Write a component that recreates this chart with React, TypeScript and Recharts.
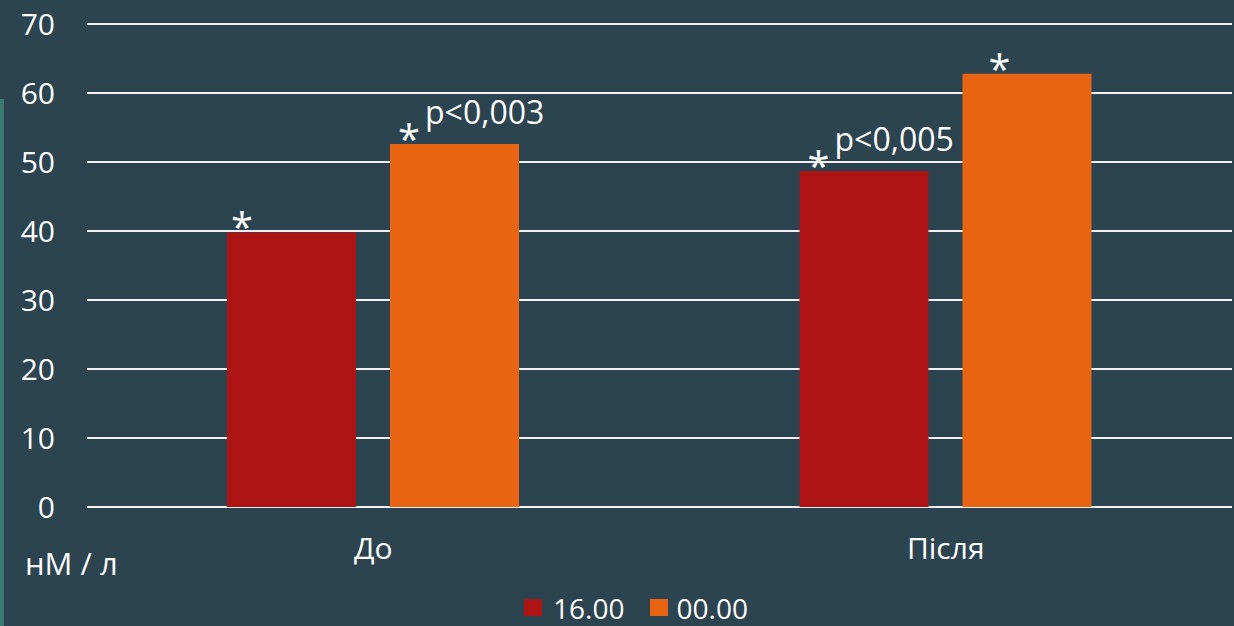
import React from 'react';
import { BarChart, Bar, XAxis, YAxis, CartesianGrid, Legend, LabelList } from 'recharts';

const periods = ['До', 'Після'];
const series1600 = [39.8, 48.7];
const series0000 = [52.6, 62.8];
const notes1600 = ['', 'p<0,005'];
const notes0000 = ['p<0,003', ''];
const yTicks = [0, 10, 20, 30, 40, 50, 60, 70];

const chartData = periods.map((period, i) => ({
  period,
  t1600: series1600[i],
  t0000: series0000[i],
  n1600: notes1600[i],
  n0000: notes0000[i],
}));

const FONT = '"Open Sans", "DejaVu Sans", sans-serif';
const BG = '#2c4350';
const RED = '#ae1414';
const ORANGE = '#e86412';

// asterisk + optional p-value above each bar; shifts are the star's offset from the bar's left edge
const makeNote = (shifts: number[]) => (props: any) => {
  const { x, y, value, index } = props;
  const starX = Number(x) + shifts[index];
  const top = Number(y);
  return (
    <g>
      <text x={starX} y={top + 10} fill="#fff" fontSize={40} fontFamily={FONT} textAnchor="middle">
        *
      </text>
      {value ? (
        <text x={starX + 16} y={top - 20} fill="#fff" fontSize={32} fontFamily={FONT}>
          {value}
        </text>
      ) : null}
    </g>
  );
};

const LegendRow = () => (
  <div
    style={{
      height: 31,
      display: 'flex',
      alignItems: 'center',
      justifyContent: 'center',
      paddingLeft: 40,
      fontFamily: FONT,
      fontSize: 28,
      lineHeight: '28px',
      color: '#fff',
    }}
  >
    <span style={{ width: 18, height: 17, background: RED, marginRight: 11 }} />
    <span style={{ marginRight: 25 }}>16.00</span>
    <span style={{ width: 18, height: 17, background: ORANGE, marginRight: 9 }} />
    <span>00.00</span>
  </div>
);

export default function App() {
  return (
    <div style={{ position: 'absolute', left: 0, top: 0, width: 1234, height: 626, background: BG, overflow: 'hidden' }}>
      <div style={{ position: 'absolute', left: 0, top: 99, width: 4, height: 527, background: '#3b7a70' }} />
      <BarChart
        width={1234}
        height={626}
        data={chartData}
        margin={{ top: 24, right: 2, bottom: 3, left: 0 }}
        barCategoryGap={140}
        barGap={34}
      >
        <CartesianGrid vertical={false} stroke="#f2f2f2" strokeWidth={2} />
        <XAxis
          dataKey="period"
          height={85}
          axisLine={false}
          tickLine={false}
          tickSize={0}
          tickMargin={31}
          tick={{ fill: '#fff', fontSize: 30, fontFamily: FONT }}
        />
        <YAxis
          width={87}
          domain={[0, 70]}
          ticks={yTicks}
          axisLine={false}
          tickLine={false}
          tickSize={0}
          tickMargin={32}
          tick={{ fill: '#fff', fontSize: 30, fontFamily: FONT }}
        />
        <Legend verticalAlign="bottom" content={<LegendRow />} />
        <Bar dataKey="t1600" name="16.00" fill={RED} barSize={129} isAnimationActive={false}>
          <LabelList dataKey="n1600" content={makeNote([15, 19])} />
        </Bar>
        <Bar dataKey="t0000" name="00.00" fill={ORANGE} barSize={129} isAnimationActive={false}>
          <LabelList dataKey="n0000" content={makeNote([19, 37])} />
        </Bar>
      </BarChart>
      <div style={{ position: 'absolute', left: 25, top: 542, fontFamily: FONT, fontSize: 31, color: '#fff', whiteSpace: 'nowrap' }}>
        нМ / л
      </div>
    </div>
  );
}
